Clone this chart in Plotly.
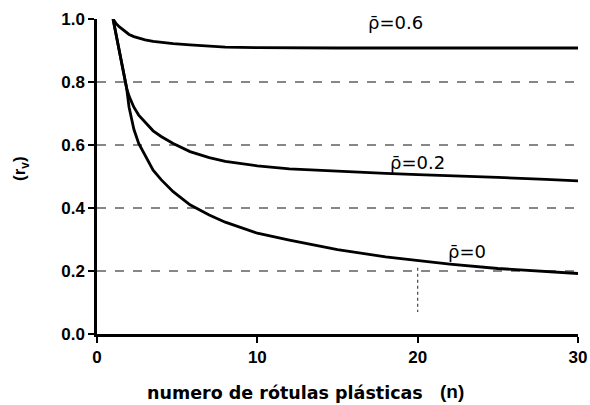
import plotly.graph_objects as go

# number of plastic hinges (n)
n_vals = [1, 1.2, 1.4, 1.6, 1.85, 2, 2.3, 2.6, 3, 3.5, 4, 4.75, 5.8, 7, 8, 10, 12, 15, 18, 20, 22, 25, 28, 30]
# r_v readings for each correlation
rv_rho00 = [1.0, 0.95, 0.895, 0.84, 0.78, 0.72, 0.65, 0.605, 0.565, 0.52, 0.49, 0.452, 0.41, 0.378, 0.355,
            0.32, 0.298, 0.268, 0.245, 0.234, 0.222, 0.208, 0.198, 0.192]
rv_rho02 = [1.0, 0.95, 0.895, 0.84, 0.78, 0.755, 0.72, 0.695, 0.673, 0.645, 0.627, 0.605, 0.579, 0.56, 0.548,
            0.534, 0.524, 0.516, 0.51, 0.506, 0.503, 0.497, 0.491, 0.486]
rv_rho06 = [1.0, 0.985, 0.975, 0.967, 0.957, 0.951, 0.944, 0.939, 0.934, 0.929, 0.926, 0.922, 0.918, 0.914, 0.911,
            0.909, 0.908, 0.908, 0.908, 0.908, 0.908, 0.908, 0.908, 0.908]

curve_labels = ["ρ̄=0.6", "ρ̄=0.2", "ρ̄=0"]
label_x = [18.6, 20.0, 23.1]
label_y = [0.99, 0.545, 0.262]

x_ticks = [0, 10, 20, 30]
y_ticks = [0.0, 0.2, 0.4, 0.6, 0.8, 1.0]
y_tick_text = ["<b>0.0</b>", "<b>0.2</b>", "<b>0.4</b>", "<b>0.6</b>", "<b>0.8</b>", "<b>1.0</b>"]
x_tick_text = ["<b>0</b>", "<b>10</b>", "<b>20</b>", "<b>30</b>"]
grid_levels = [0.2, 0.4, 0.6, 0.8]

fig = go.Figure()
for ys in (rv_rho06, rv_rho02, rv_rho00):
    fig.add_trace(go.Scatter(x=n_vals, y=ys, mode="lines",
                             line=dict(color="black", width=2.8),
                             showlegend=False, hoverinfo="skip"))

for g in grid_levels:
    fig.add_shape(type="line", xref="x", yref="y", x0=0, x1=30, y0=g, y1=g,
                  line=dict(color="#111", width=1.2, dash="dash"), layer="below")

# faint vertical dotted mark at n=20
fig.add_shape(type="line", xref="x", yref="y", x0=20, x1=20, y0=0.21, y1=0.07,
              line=dict(color="#444", width=1.2, dash="dot"))

for t, x, y in zip(curve_labels, label_x, label_y):
    fig.add_annotation(x=x, y=y, text=t, showarrow=False,
                       font=dict(family="DejaVu Sans", size=18, color="black"))

# axis titles
fig.add_annotation(xref="paper", yref="paper", x=(285 - 97) / 481, y=-(393 - 334) / 315,
                   text="<b>numero de rótulas plásticas</b>", showarrow=False,
                   xanchor="center", yanchor="middle",
                   font=dict(family="DejaVu Sans", size=17.5, color="black"))
fig.add_annotation(xref="paper", yref="paper", x=(452 - 97) / 481, y=-(391 - 334) / 315,
                   text="<b>(n)</b>", showarrow=False, xanchor="center", yanchor="middle",
                   font=dict(family="Liberation Sans", size=19, color="black"))
fig.add_annotation(xref="paper", yref="paper", x=-(97 - 21) / 481, y=(334 - 169) / 315,
                   text="<b>(r<sub>v</sub>)</b>", showarrow=False, textangle=-90,
                   xanchor="center", yanchor="middle",
                   font=dict(family="Liberation Sans", size=17, color="black"))

fig.update_layout(
    width=590, height=405,
    margin=dict(l=97, r=12, t=19, b=71, autoexpand=False),
    paper_bgcolor="white", plot_bgcolor="white",
    font=dict(family="Liberation Sans", color="black"),
    xaxis=dict(range=[0, 30], tickvals=x_ticks, ticktext=x_tick_text, ticks="outside", ticklen=6, tickwidth=2,
               tickcolor="black", showline=True, linecolor="black", linewidth=2.5, automargin=False,
               showgrid=False, zeroline=False, tickfont=dict(size=17, color="black")),
    yaxis=dict(range=[0, 1.0], tickvals=y_ticks, ticktext=y_tick_text, ticks="outside", ticklen=6,
               tickwidth=2, tickcolor="black", showline=True, linecolor="black", linewidth=2.5,
               automargin=False, showgrid=False, zeroline=False, tickfont=dict(size=17, color="black")),
)

fig.write_html("out.html")
